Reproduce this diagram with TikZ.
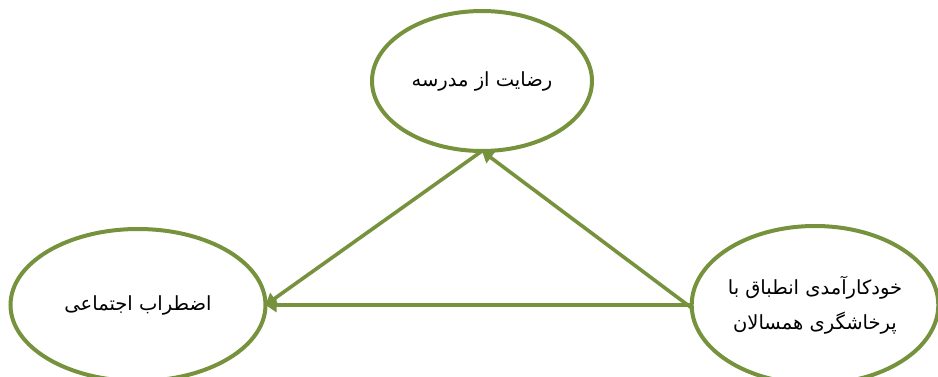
\documentclass[tikz,border=0pt]{standalone}
\usepackage{fontspec}
\newfontfamily\arabicfont[Script=Arabic]{DejaVu Sans}
\TeXXeTstate=1
\usetikzlibrary{shapes.geometric,arrows.meta}
\definecolor{olive}{RGB}{118,146,60}
\tikzset{
  bubble/.style={ellipse, draw=olive, line width=4pt, fill=white, inner sep=0pt, outer sep=0pt,
    align=center, font=\arabicfont\fontsize{19.5}{35}\selectfont},
  link/.style={draw=olive, line width=3.6pt, -{Triangle[width=14pt,length=11pt]}}
}
\begin{document}
\begin{tikzpicture}[x=1pt,y=-1pt]
\useasboundingbox (0,0) rectangle (938,376);
\node[bubble, minimum width=220pt, minimum height=140pt] (t) at (482,81)
  {\beginR رضایت از مدرسه\endR};
\node[bubble, minimum width=255pt, minimum height=152pt] (l) at (138,305)
  {\beginR اضطراب اجتماعی\endR};
\node[bubble, minimum width=242pt, minimum height=158pt] (r) at (815,305)
  {\beginR خودکارآمدی انطباق با\endR\\\beginR پرخاشگری همسالان\endR};
\draw[link] ([yshift=-3pt]r.west) -- (t.south);
\draw[link] (r.west) -- (l.east);
\draw[link] (t.south) -- (l.east);
\end{tikzpicture}
\end{document}
